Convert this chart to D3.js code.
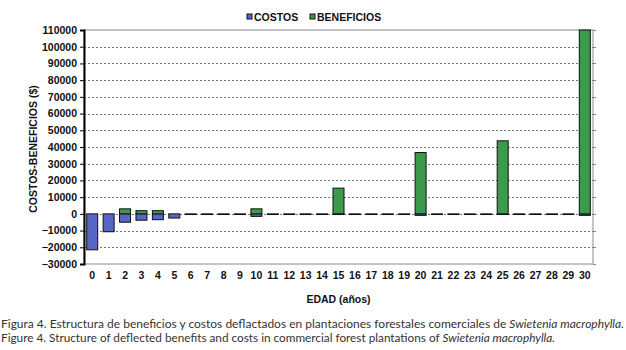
<!DOCTYPE html>
<html><head><meta charset="utf-8">
<script src="https://cdn.jsdelivr.net/npm/d3@7"></script>
<style>body{margin:0;background:#fff}svg{display:block}</style>
</head><body>
<script>
const ages = d3.range(0, 31);
const costos = [-21500,-10700,-5000,-3800,-3500,-2500,-400,-400,-400,-400,-1500,-400,-400,-400,-400,-400,-400,-400,-400,-400,-900,-400,-400,-400,-400,-400,-400,-400,-400,-400,-900];
const beneficios = [0,0,3000,1900,1900,0,0,0,0,0,3000,0,0,0,0,15400,0,0,0,0,36700,0,0,0,0,43700,0,0,0,0,110000];
const yTicks = d3.range(-30000, 110001, 10000);
const seriesNames = ["COSTOS", "BENEFICIOS"];
const colors = ["#5866c6", "#3c9a4c"];
const xTitle = "EDAD (años)";
const yTitle = "COSTOS-BENEFICIOS ($)";

const W = 626, H = 350;
const svg = d3.select("body").append("svg").attr("width", W).attr("height", H);
const L = 84, R = 593, T = 30, B = 264;
const x = d3.scaleBand().domain(ages).range([L, R]).paddingInner(0.33).paddingOuter(0.165);
const y = d3.scaleLinear().domain([-30000, 110000]).range([B, T]);
const font = "'Liberation Sans', Arial, sans-serif";

// plot border
svg.append("rect").attr("x", L).attr("y", T).attr("width", R - L).attr("height", B - T)
  .attr("fill", "none").attr("stroke", "#8a8a8a").attr("stroke-width", 1);

// grid
svg.append("g").selectAll("line").data(yTicks.filter(d => d > -30000 && d < 110000)).join("line")
  .attr("x1", L).attr("x2", R).attr("y1", d => Math.round(y(d)) + 0.5).attr("y2", d => Math.round(y(d)) + 0.5)
  .attr("stroke", "#777").attr("stroke-width", 1).attr("stroke-dasharray", "2,2");

// right small ticks
svg.append("g").selectAll("line").data(yTicks).join("line")
  .attr("x1", R).attr("x2", R + 3).attr("y1", d => Math.round(y(d)) + 0.5).attr("y2", d => Math.round(y(d)) + 0.5)
  .attr("stroke", "#8a8a8a");

// bars
const bw = x.bandwidth();
const gB = svg.append("g");
[costos, beneficios].forEach((vals, si) => {
  gB.append("g").selectAll("rect").data(ages.filter(a => vals[a] !== 0)).join("rect")
    .attr("x", a => x(a))
    .attr("width", bw)
    .attr("y", a => y(Math.max(0, vals[a])))
    .attr("height", a => Math.abs(y(vals[a]) - y(0)))
    .attr("fill", colors[si]).attr("stroke", "#111").attr("stroke-width", 1);
});

// left axis
const yAxis = d3.axisLeft(y).tickValues(yTicks).tickSize(4).tickFormat(d3.format("d"));
const ga = svg.append("g").attr("transform", `translate(${L},0)`).call(yAxis);
ga.select(".domain").attr("stroke", "#000").attr("stroke-width", 2);
ga.selectAll(".tick line").attr("stroke", "#000").attr("stroke-width", 1);
ga.selectAll("text").attr("font-family", font).attr("font-weight", "bold").attr("font-size", 10.5).attr("fill", "#111").attr("x", -7);

// x labels
const xAxis = d3.axisBottom(x).tickSize(0);
const gx = svg.append("g").attr("transform", `translate(0,${B})`).call(xAxis);
gx.select(".domain").remove();
gx.selectAll("text").attr("font-family", font).attr("font-weight", "bold").attr("font-size", 10.5).attr("fill", "#111").attr("dy", "0.71em").attr("y", 8);

// titles
svg.append("text").attr("x", (L + R) / 2).attr("y", 303).attr("text-anchor", "middle")
  .attr("font-family", font).attr("font-weight", "bold").attr("font-size", 10.5).attr("fill", "#111").text(xTitle);
svg.append("text").attr("transform", `translate(37,149) rotate(-90)`).attr("text-anchor", "middle")
  .attr("font-family", font).attr("font-weight", "bold").attr("font-size", 10.5).attr("fill", "#111").text(yTitle);

// legend
const leg = [{x: 247, name: seriesNames[0], c: colors[0]}, {x: 310, name: seriesNames[1], c: colors[1]}];
leg.forEach(l => {
  svg.append("rect").attr("x", l.x).attr("y", 14).attr("width", 5).attr("height", 5).attr("fill", l.c).attr("stroke", "#111");
  svg.append("text").attr("x", l.x + 7).attr("y", 20.5).attr("font-family", font).attr("font-weight", "bold")
    .attr("font-size", 10.5).attr("fill", "#111").text(l.name);
});

// captions
const cap1 = svg.append("text").attr("x", 1).attr("y", 328).attr("font-family", "Lato, sans-serif").attr("font-size", 11.5).attr("fill", "#333")
  .attr("textLength", 623).attr("lengthAdjust", "spacingAndGlyphs");
cap1.append("tspan").text("Figura 4. Estructura de beneficios y costos deflactados en plantaciones forestales comerciales de ");
cap1.append("tspan").attr("font-style", "italic").text("Swietenia macrophylla.");
const cap2 = svg.append("text").attr("x", 1).attr("y", 342).attr("font-family", "Lato, sans-serif").attr("font-size", 11.5).attr("fill", "#333")
  .attr("textLength", 554).attr("lengthAdjust", "spacingAndGlyphs");
cap2.append("tspan").text("Figure 4. Structure of deflected benefits and costs in commercial forest plantations of ");
cap2.append("tspan").attr("font-style", "italic").text("Swietenia macrophylla.");
</script>
</body></html>
